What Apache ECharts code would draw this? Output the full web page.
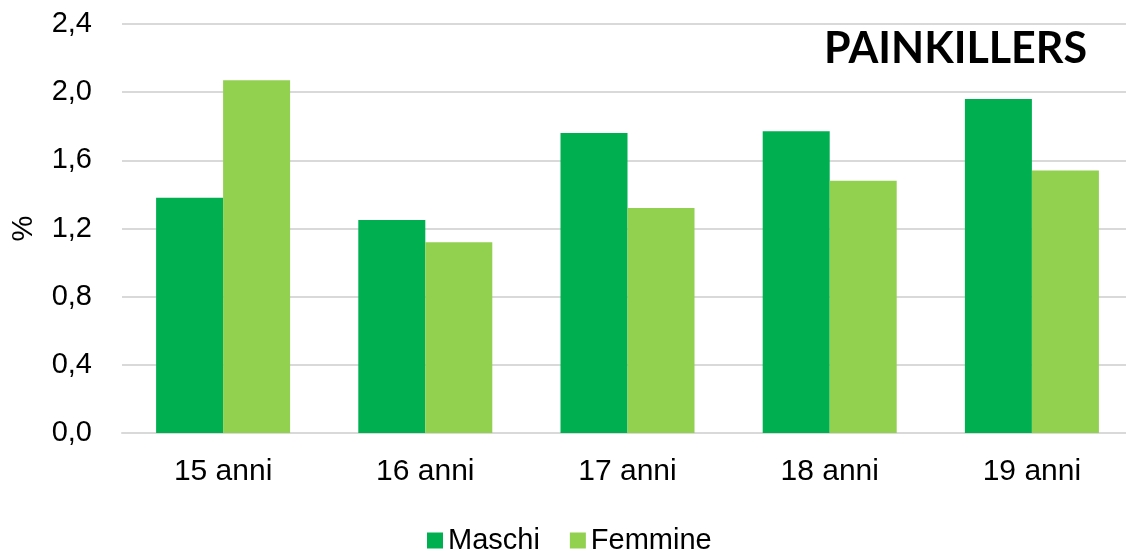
<!DOCTYPE html>
<html>
<head>
<meta charset="utf-8">
<script src="https://cdn.jsdelivr.net/npm/echarts@6/dist/echarts.min.js"></script>
<style>
html,body{margin:0;padding:0;background:#fff;}
#chart{width:1126px;height:551px;}
</style>
</head>
<body>
<div id="chart"></div>
<script>
var categories = ['15 anni', '16 anni', '17 anni', '18 anni', '19 anni'];
var maschi = [1.38, 1.25, 1.76, 1.77, 1.96];
var femmine = [2.07, 1.12, 1.32, 1.48, 1.54];
var seriesNames = ['Maschi', 'Femmine'];
var chartTitle = 'PAINKILLERS';
var yAxisName = '%';

var chart = echarts.init(document.getElementById('chart'), null, {renderer: 'canvas'});
var font = '"Liberation Sans", Arial, sans-serif';
chart.setOption({
  animation: false,
  backgroundColor: '#ffffff',
  grid: {left: 122, right: -7, top: 24, bottom: 118, containLabel: false, outerBoundsMode: 'none'},
  graphic: [{
    type: 'text',
    left: 824,
    top: 28,
    style: {
      text: chartTitle,
      fontFamily: 'Lato, "Liberation Sans", sans-serif',
      fontWeight: 'bold',
      fontSize: 43,
      fill: '#000000'
    }
  }],
  legend: {
    left: 422,
    top: 521,
    itemWidth: 16,
    itemHeight: 16,
    itemGap: 30,
    icon: 'rect',
    textStyle: {fontFamily: font, fontSize: 29, color: '#000', padding: [0, 0, 0, 0]},
    data: seriesNames
  },
  xAxis: {
    type: 'category',
    data: categories,
    axisLine: {show: true, lineStyle: {color: '#d9d9d9', width: 2}},
    axisTick: {show: false},
    axisLabel: {fontFamily: font, fontSize: 30, color: '#000', margin: 24}
  },
  yAxis: {
    type: 'value',
    min: 0,
    max: 2.4,
    interval: 0.4,
    name: yAxisName,
    nameLocation: 'middle',
    nameRotate: 90,
    nameGap: 84,
    nameTextStyle: {fontFamily: font, fontSize: 29, color: '#000'},
    axisLine: {show: false},
    axisTick: {show: false},
    splitLine: {lineStyle: {color: '#d9d9d9', width: 2}},
    axisLabel: {
      fontFamily: font, fontSize: 29, color: '#000', margin: 30,
      formatter: function (v) { return v.toFixed(1).replace('.', ','); }
    }
  },
  series: [
    {name: seriesNames[0], type: 'bar', data: maschi, barWidth: 67, barGap: '0%',
     itemStyle: {color: '#00B050'}},
    {name: seriesNames[1], type: 'bar', data: femmine, barWidth: 67, barGap: '0%',
     itemStyle: {color: '#92D050'}}
  ]
});
</script>
</body>
</html>
